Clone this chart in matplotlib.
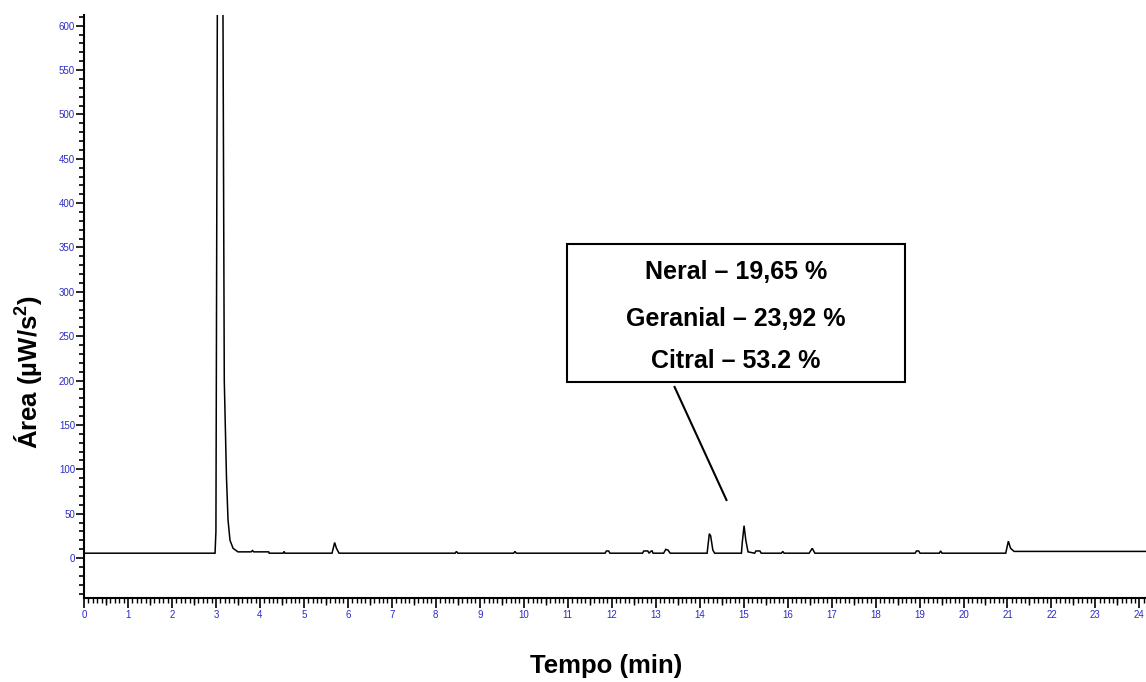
import matplotlib
matplotlib.use("Agg")
import matplotlib.pyplot as plt
from matplotlib.patches import Rectangle
import numpy as np

plt.rcParams['font.family'] = ['Liberation Sans', 'DejaVu Sans']
plt.rcParams['mathtext.fontset'] = 'custom'
plt.rcParams['mathtext.rm'] = 'Liberation Sans:bold'
plt.rcParams['mathtext.bf'] = 'Liberation Sans:bold'

# Chromatogram trace (retention time in min, signal)
time_min = [0.0, 2.98, 3.0, 3.08, 3.16, 3.19, 3.24, 3.275, 3.32, 3.39, 3.5,
            3.8, 3.83, 3.86, 4.2, 4.21, 4.53, 4.55, 4.57,
            5.64, 5.7, 5.74, 5.8, 8.44, 8.47, 8.5, 9.77, 9.8, 9.83,
            11.85, 11.88, 11.93, 11.96, 12.7, 12.73, 12.82, 12.85, 12.9, 12.92, 12.94,
            13.18, 13.23, 13.28, 13.33, 14.17, 14.22, 14.25, 14.3, 14.34,
            14.95, 14.97, 15.01, 15.05, 15.1, 15.25, 15.28, 15.37, 15.4,
            15.86, 15.89, 15.92, 16.49, 16.56, 16.62,
            18.9, 18.93, 18.98, 19.01, 19.45, 19.48, 19.51,
            20.96, 21.02, 21.07, 21.15, 24.2]
signal = [5.5, 5.5, 30.0, 1500.0, 620.0, 200.0, 91.0, 43.0, 20.0, 11.0, 7.0,
          7.0, 8.5, 7.0, 7.0, 5.5, 5.5, 7.5, 5.5,
          5.5, 17.5, 11.0, 5.5, 5.5, 7.5, 5.5, 5.5, 7.5, 5.5,
          5.5, 8.0, 8.0, 5.5, 5.5, 8.0, 8.0, 5.5, 8.0, 8.0, 5.5,
          5.5, 9.8, 9.0, 5.5, 5.5, 27.5, 25.0, 9.0, 5.5,
          5.5, 18.0, 36.5, 20.0, 7.0, 5.5, 8.0, 8.0, 5.5,
          5.5, 7.5, 5.5, 5.5, 11.0, 5.5,
          5.5, 8.0, 8.0, 5.5, 5.5, 8.0, 5.5,
          5.5, 19.0, 11.0, 7.5, 7.5]

y_major = [0, 50, 100, 150, 200, 250, 300, 350, 400, 450, 500, 550, 600]
x_major = list(range(0, 25))
box_lines = ["Neral – 19,65 %", "Geranial – 23,92 %", "Citral – 53.2 %"]

tick_color = '#2a2ac8'

fig = plt.figure(figsize=(11.46, 6.82), dpi=100)
ax = fig.add_axes([84/1146, 84/682, 1 - 84/1146, (598-15)/682])
ax.plot(time_min, signal, color='black', lw=1.1, solid_joinstyle='miter')
ax.set_xlim(0, 24.15)
ax.set_ylim(-45, 612)

for s in ['top', 'right']:
    ax.spines[s].set_visible(False)
ax.spines['left'].set_linewidth(1.5)
ax.spines['bottom'].set_linewidth(1.5)

ax.set_xticks(x_major)
ax.set_xticks(np.arange(0, 24.2, 0.1), minor=True)
ax.set_yticks(y_major)
ax.set_yticks(np.arange(-40, 611, 10), minor=True)
ax.tick_params(axis='both', which='major', labelsize=7, labelcolor=tick_color, width=1.2)
ax.tick_params(axis='x', which='major', length=7.5, pad=1.5)
ax.tick_params(axis='x', which='minor', length=3.6, width=1.0)
ax.tick_params(axis='y', which='major', length=6, pad=0.5)
ax.tick_params(axis='y', which='minor', length=3.6, width=1.2)

sec = ax.secondary_xaxis('bottom')
sec.set_xticks(np.arange(0.5, 24.2, 1.0))
sec.tick_params(length=5.2, width=1.0, labelbottom=False)
sec.spines['bottom'].set_visible(False)

fig.text(606/1146, 1 - 666/682, "Tempo (min)", ha='center', va='center',
         fontsize=18.5, fontweight='bold')
fig.text(29/1146, 1 - 372/682, r"Área (µW/s$^{2}$)", ha='center', va='center',
         rotation=90, fontsize=18.5, fontweight='bold')

# annotation box
ax.add_patch(Rectangle((10.98, 198.4), 18.66 - 10.98, 354 - 198.4, fill=False,
                       edgecolor='black', lw=1.5, zorder=5, clip_on=False))
for txt, yy in zip(box_lines, [314.5, 261.6, 214.2]):
    ax.text(14.82, yy, txt, ha='center', va='baseline', fontsize=18,
            fontweight='bold', zorder=6)
ax.plot([13.43, 14.61], [192.8, 65.4], color='black', lw=1.5)

fig.savefig('out.png', dpi=100)
